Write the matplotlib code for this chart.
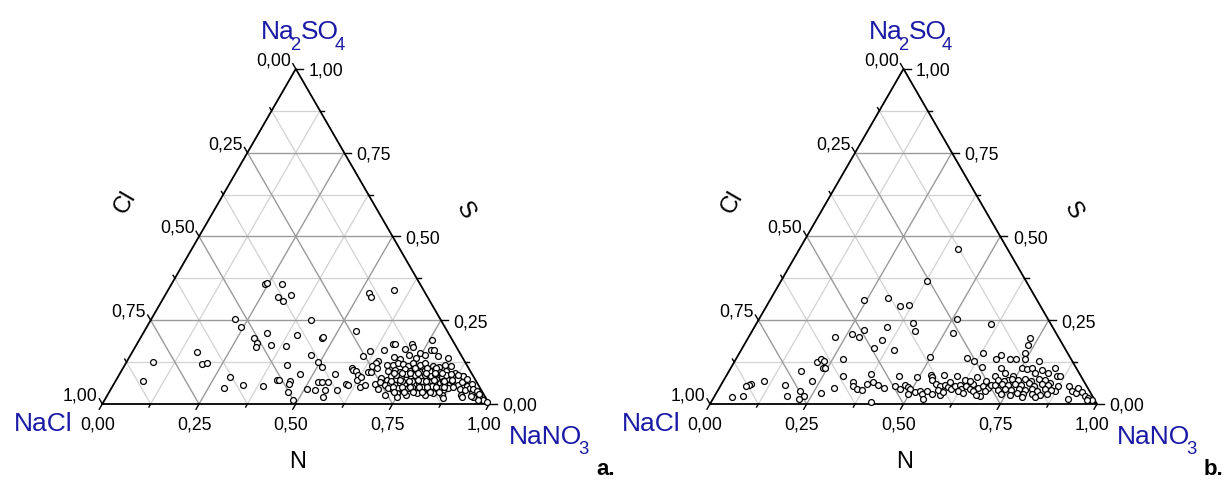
import numpy as np
import matplotlib
matplotlib.use("Agg")
import matplotlib.pyplot as plt

plt.rcParams['font.family'] = ['Liberation Sans', 'DejaVu Sans']

# ternary axes: N (bottom), S (right), Cl (left) ; Cl = 1 - N - S
major = [0.0, 0.25, 0.5, 0.75, 1.0]
minor = [0.125, 0.375, 0.625, 0.875]
tick_labels = ['0,00', '0,25', '0,50', '0,75', '1,00']
# corner names as (text, subscript?) pieces
nacl = [('NaCl', False)]
na2so4 = [('Na', False), ('2', True), ('SO', False), ('4', True)]
nano3 = [('NaNO', False), ('3', True)]
axis_names = ['N', 'S', 'Cl']
panel_letters = ['a.', 'b.']

# panel a : N fraction and S fraction of every sample
a_n = [0.240, 0.245, 0.284, 0.294, 0.315, 0.326,
       0.522, 0.535, 0.582, 0.217, 0.243, 0.414,
       0.320, 0.295, 0.309, 0.311, 0.349, 0.388,
       0.400, 0.470, 0.471, 0.545, 0.167, 0.197,
       0.211, 0.068, 0.071, 0.290, 0.290, 0.336,
       0.388, 0.415, 0.422, 0.451, 0.452, 0.463,
       0.487, 0.467, 0.418, 0.465, 0.494, 0.512,
       0.555, 0.586, 0.507, 0.529, 0.526, 0.536,
       0.549, 0.554, 0.561, 0.601, 0.606, 0.640,
       0.650, 0.590, 0.597, 0.606, 0.618, 0.622,
       0.629, 0.603, 0.613, 0.647, 0.662, 0.666,
       0.648, 0.648, 0.639, 0.647, 0.641, 0.657, 0.677,
       0.711, 0.719, 0.755, 0.770, 0.777, 0.700,
       0.744, 0.760, 0.718, 0.701, 0.684, 0.824, 0.743, 0.797,
       0.694, 0.703, 0.718, 0.734, 0.743, 0.763, 0.773, 0.798, 0.815, 0.845, 0.827,
       0.689, 0.705, 0.721, 0.730, 0.746, 0.756, 0.773, 0.783, 0.798, 0.808, 0.825, 0.839, 0.865, 0.891,
       0.682, 0.698, 0.705, 0.722, 0.732, 0.748, 0.757, 0.774, 0.784, 0.800, 0.809, 0.826, 0.836, 0.852, 0.861, 0.900,
       0.673, 0.684, 0.701, 0.711, 0.727, 0.737, 0.753, 0.763, 0.779, 0.788, 0.805, 0.814, 0.831, 0.840, 0.856, 0.867, 0.891, 0.896, 0.914,
       0.690, 0.714, 0.731, 0.740, 0.757, 0.767, 0.783, 0.793, 0.809, 0.819, 0.835, 0.845, 0.861, 0.871, 0.902, 0.917, 0.926,
       0.716, 0.744, 0.772, 0.796, 0.819, 0.839, 0.863, 0.914, 0.938, 0.954,
       0.750, 0.872, 0.918, 0.968, 0.979, 0.991, 0.965, 0.948, 0.890,
       0.715, 0.740, 0.765, 0.790, 0.815, 0.845, 0.740, 0.765, 0.792, 0.818, 0.845, 0.870,
       0.775, 0.800, 0.826, 0.852, 0.755, 0.785, 0.810,
       0.708, 0.728, 0.750, 0.770, 0.790, 0.812, 0.832, 0.855, 0.875,
       0.712, 0.735, 0.758, 0.780, 0.802, 0.822, 0.848, 0.868,
       0.725, 0.748, 0.770, 0.792, 0.815, 0.838, 0.858, 0.880,
       0.735, 0.760, 0.785, 0.808, 0.830, 0.852,
       0.905, 0.925, 0.935, 0.948, 0.958, 0.940]
a_s = [0.359, 0.361, 0.359, 0.320, 0.306, 0.325,
       0.332, 0.320, 0.341, 0.254, 0.230, 0.251,
       0.212, 0.196, 0.182, 0.170, 0.175, 0.174,
       0.206, 0.196, 0.199, 0.219, 0.154, 0.120,
       0.121, 0.124, 0.070, 0.081, 0.048, 0.057,
       0.055, 0.071, 0.071, 0.069, 0.061, 0.036,
       0.012, 0.090, 0.117, 0.146, 0.125, 0.110,
       0.091, 0.043, 0.044, 0.043, 0.065, 0.065,
       0.066, 0.041, 0.021, 0.060, 0.056, 0.050,
       0.056, 0.108, 0.101, 0.097, 0.086, 0.073,
       0.080, 0.142, 0.157, 0.161, 0.178, 0.180,
       0.128, 0.121, 0.096, 0.096, 0.113, 0.108, 0.117,
       0.179, 0.170, 0.192, 0.161, 0.161, 0.164,
       0.152, 0.147, 0.147, 0.135, 0.140, 0.138, 0.137, 0.142,
       0.115, 0.121, 0.118, 0.113, 0.121, 0.115, 0.121, 0.113, 0.111, 0.113, 0.117,
       0.098, 0.101, 0.095, 0.103, 0.098, 0.103, 0.095, 0.101, 0.097, 0.103, 0.095, 0.098, 0.093, 0.083,
       0.078, 0.073, 0.083, 0.075, 0.081, 0.075, 0.083, 0.075, 0.081, 0.075, 0.083, 0.075, 0.081, 0.075, 0.083, 0.073,
       0.061, 0.065, 0.057, 0.063, 0.057, 0.063, 0.057, 0.063, 0.057, 0.063, 0.057, 0.063, 0.057, 0.063, 0.057, 0.061, 0.058, 0.065, 0.055,
       0.045, 0.048, 0.041, 0.048, 0.041, 0.047, 0.041, 0.047, 0.041, 0.047, 0.041, 0.047, 0.041, 0.047, 0.045, 0.041, 0.048,
       0.028, 0.033, 0.028, 0.033, 0.028, 0.033, 0.028, 0.028, 0.033, 0.027,
       0.021, 0.018, 0.021, 0.017, 0.011, 0.005, 0.013, 0.021, 0.085,
       0.088, 0.089, 0.088, 0.088, 0.089, 0.088, 0.068, 0.069, 0.068, 0.068, 0.069, 0.068,
       0.052, 0.052, 0.053, 0.052, 0.108, 0.107, 0.106,
       0.092, 0.093, 0.092, 0.093, 0.092, 0.093, 0.092, 0.090, 0.088,
       0.070, 0.071, 0.070, 0.071, 0.070, 0.071, 0.070, 0.071,
       0.050, 0.051, 0.050, 0.051, 0.050, 0.051, 0.050, 0.052,
       0.036, 0.037, 0.036, 0.037, 0.036, 0.037,
       0.075, 0.060, 0.045, 0.038, 0.030, 0.025]

# panel b
b_n = [0.410, 0.377, 0.243, 0.303, 0.345, 0.365,
       0.404, 0.420, 0.512, 0.523, 0.607, 0.341,
       0.288, 0.262, 0.285, 0.222, 0.350, 0.339,
       0.396, 0.498, 0.277, 0.215, 0.220, 0.230,
       0.238, 0.244, 0.187, 0.105, 0.076, 0.072,
       0.066, 0.047, 0.073, 0.167, 0.186, 0.213,
       0.230, 0.221, 0.230, 0.270, 0.297, 0.302,
       0.337, 0.341, 0.358, 0.371, 0.374, 0.371,
       0.388, 0.405, 0.426, 0.412, 0.447, 0.450,
       0.468, 0.475, 0.485, 0.494, 0.495, 0.494,
       0.512, 0.523, 0.532, 0.542, 0.542, 0.560, 0.581,
       0.527, 0.534, 0.537, 0.553, 0.567, 0.560, 0.577, 0.590,
       0.600, 0.596, 0.606, 0.616, 0.627, 0.622, 0.636, 0.649,
       0.650, 0.649, 0.669, 0.686, 0.679, 0.679, 0.696, 0.697,
       0.595, 0.617, 0.629, 0.649, 0.671, 0.679, 0.707, 0.723,
       0.737, 0.787, 0.728, 0.733, 0.747,
       0.694, 0.699, 0.715, 0.734, 0.742, 0.751, 0.767, 0.777, 0.793,
       0.807, 0.828, 0.838, 0.855, 0.864, 0.847, 0.874, 0.873, 0.900,
       0.916, 0.928, 0.928, 0.944, 0.957, 0.969, 0.982, 0.917, 0.969,
       0.708, 0.725, 0.742, 0.760, 0.777, 0.794, 0.811, 0.829,
       0.707, 0.724, 0.742, 0.759, 0.776, 0.794, 0.811, 0.828, 0.845,
       0.723, 0.740, 0.757, 0.775, 0.792, 0.809, 0.826, 0.844, 0.861,
       0.738, 0.760, 0.777, 0.795, 0.816, 0.838, 0.855, 0.795, 0.830,
       0.567, 0.584, 0.622, 0.637, 0.661, 0.674, 0.691, 0.587, 0.637]
b_s = [0.462, 0.367, 0.310, 0.315, 0.291, 0.296,
       0.243, 0.217, 0.253, 0.212, 0.240, 0.231,
       0.220, 0.210, 0.199, 0.201, 0.191, 0.168,
       0.161, 0.140, 0.133, 0.125, 0.133, 0.128,
       0.108, 0.108, 0.098, 0.070, 0.060, 0.056,
       0.053, 0.022, 0.023, 0.056, 0.025, 0.038,
       0.025, 0.016, 0.068, 0.032, 0.047, 0.084,
       0.065, 0.055, 0.045, 0.043, 0.061, 0.090,
       0.065, 0.057, 0.048, 0.007, 0.085, 0.055,
       0.045, 0.058, 0.052, 0.046, 0.031, 0.080,
       0.035, 0.038, 0.031, 0.015, 0.038, 0.029, 0.027,
       0.088, 0.081, 0.073, 0.060, 0.053, 0.087, 0.058, 0.051,
       0.046, 0.083, 0.053, 0.058, 0.045, 0.073, 0.053, 0.045,
       0.061, 0.081, 0.048, 0.025, 0.055, 0.068, 0.047, 0.058,
       0.136, 0.128, 0.153, 0.110, 0.135, 0.146, 0.135, 0.133,
       0.153, 0.128, 0.198, 0.176, 0.133,
       0.083, 0.108, 0.093, 0.073, 0.083, 0.108, 0.103, 0.108, 0.093,
       0.101, 0.093, 0.108, 0.083, 0.083, 0.063, 0.053, 0.038, 0.053,
       0.038, 0.033, 0.048, 0.035, 0.025, 0.018, 0.011, 0.015, 0.011,
       0.073, 0.070, 0.075, 0.071, 0.074, 0.070, 0.076, 0.072,
       0.058, 0.061, 0.056, 0.060, 0.057, 0.062, 0.055, 0.059, 0.057,
       0.043, 0.046, 0.041, 0.045, 0.042, 0.046, 0.040, 0.044, 0.042,
       0.030, 0.028, 0.032, 0.029, 0.031, 0.027, 0.030, 0.020, 0.021,
       0.043, 0.035, 0.038, 0.033, 0.038, 0.028, 0.038, 0.065, 0.068]

H = np.sqrt(3) / 2
SIDE = 387.0          # triangle side in pixels
BLUE = '#1a1aa6'
P = 1.0 / SIDE        # one pixel in data units


def to_xy(n, s):
    n = np.asarray(n)
    s = np.asarray(s)
    return n + s / 2, s * H


def chem_text(ax, x, y, pieces, ha='left', size=19):
    # draw a formula piece by piece so subscripts sit low like the original
    renderer = ax.figure.canvas.get_renderer()
    arts = []
    cur = 0.0
    for k, (txt, sub) in enumerate(pieces):
        fs = size * 0.7 if sub else size
        dy = -10.5 * P if sub else 0.0
        t = ax.text(x + cur, y + dy, txt, ha='left', va='baseline', fontsize=fs,
                    color=BLUE)
        w = t.get_window_extent(renderer).width
        last = k == len(pieces) - 1
        cur += (w if (sub or last) else w - 4.5) * P
        arts.append(t)
    if ha == 'right':
        for t in arts:
            px_, py_ = t.get_position()
            t.set_position((px_ - cur, py_))


def draw_panel(ax, n_vals, s_vals, letter):
    ax.axis('off')
    # grid
    for v in minor + major[1:-1]:
        if v in major:
            col, lw = '#9a9a9a', 1.0
        else:
            col, lw = '#d2d2d2', 0.9
        ax.plot([v / 2, 1 - v / 2], [v * H, v * H], color=col, lw=lw, zorder=1)
        ax.plot([v, v + (1 - v) / 2], [0, (1 - v) * H], color=col, lw=lw, zorder=1)
        ax.plot([v, v / 2], [0, v * H], color=col, lw=lw, zorder=1)
    ax.plot([0, 1, 0.5, 0], [0, 0, H, 0], color='black', lw=1.3, zorder=3,
            solid_joinstyle='miter')

    # ticks
    for vals, L in ((major, 6 * P), (minor, 3.5 * P)):
        for v in vals:
            ax.plot([v, v - 0.5 * L], [0, -H * L], color='black', lw=1, zorder=3)
            x0, y0 = 1 - v / 2, v * H
            ax.plot([x0, x0 + 1.2 * L], [y0, y0], color='black', lw=1, zorder=3)
            x0, y0 = (1 - v) / 2, (1 - v) * H
            ax.plot([x0, x0 - 0.5 * L], [y0, y0 + H * L], color='black', lw=1, zorder=3)
    for v, lab in zip(major, tick_labels):
        ax.text(v - 5 * P, -25 * P, lab, ha='center', va='baseline', fontsize=12.7)
        ax.text(1 - v / 2 + 12.5 * P, v * H - 6 * P, lab, ha='left', va='baseline',
                fontsize=12.7)
        ax.text((1 - v) / 2 - 4.5 * P, (1 - v) * H + 4.6 * P, lab, ha='right',
                va='baseline', fontsize=12.7)

    # samples
    x, y = to_xy(n_vals, s_vals)
    ax.scatter(x, y, s=18, facecolors='white', edgecolors='black',
               linewidths=0.9, zorder=4)

    # corner and axis names
    chem_text(ax, -30 * P, -25.7 * P, nacl, ha='right')
    chem_text(ax, 159 * P, 365.7 * P, na2so4)
    chem_text(ax, 407 * P, -39 * P, nano3)
    ax.text(195 * P, -57 * P, axis_names[0], ha='center', va='center', fontsize=17)
    ax.text(363 * P, 194 * P, axis_names[1], ha='center', va='center', fontsize=17,
            rotation=-60)
    ax.text(22.5 * P, 202.5 * P, axis_names[2], ha='center', va='center',
            fontsize=17, rotation=60)
    ax.text(494 * P, -70 * P, letter, ha='left', va='baseline', fontsize=16,
            fontweight='bold')


fig = plt.figure(figsize=(12.25, 4.81), dpi=100)
W, HT = 1225.0, 481.0
origins = [(102.3, 405.0), (710.0, 405.0)]
for i, (n_vals, s_vals) in enumerate([(a_n, a_s), (b_n, b_s)]):
    left = 0 if i == 0 else 612.5
    ax = fig.add_axes([left / W, 0, 612.5 / W, 1])
    ox, oy = origins[i]
    ax.set_xlim((left - ox) / SIDE, (left + 612.5 - ox) / SIDE)
    ax.set_ylim(-(HT - oy) / SIDE, oy / SIDE)
    draw_panel(ax, n_vals, s_vals, panel_letters[i])

fig.savefig('out.png', dpi=100)
